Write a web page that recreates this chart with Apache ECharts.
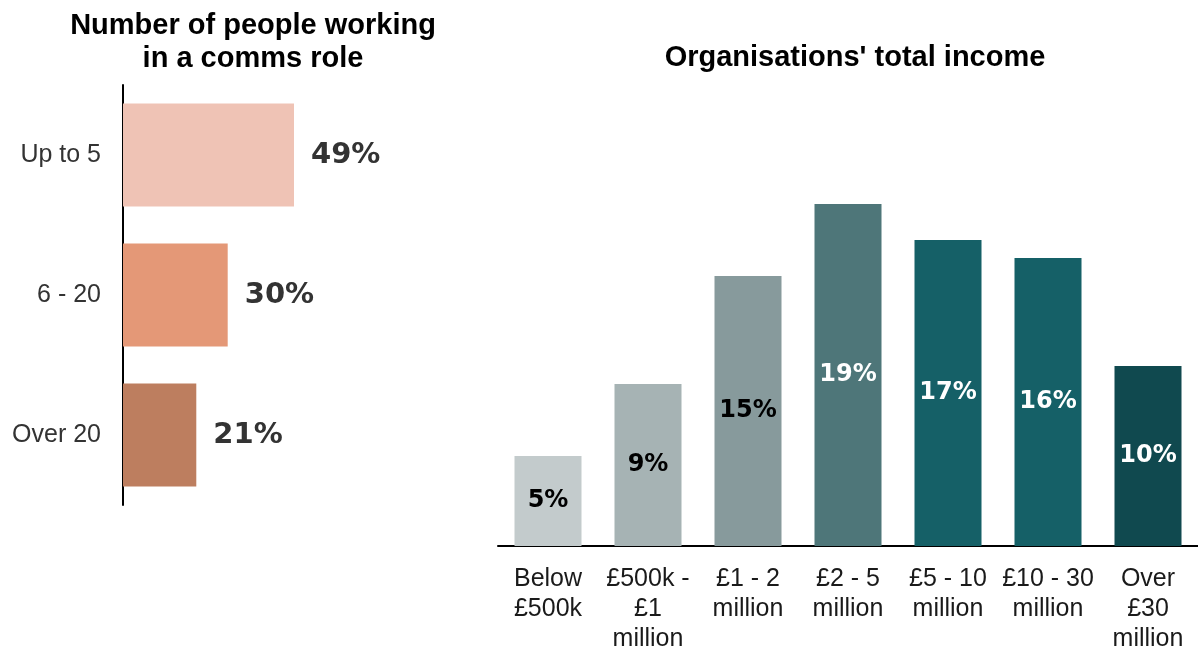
<!DOCTYPE html>
<html>
<head>
<meta charset="utf-8">
<script src="https://cdn.jsdelivr.net/npm/echarts@6/dist/echarts.min.js"></script>
<style>
  html, body { margin: 0; padding: 0; background: #ffffff; }
  #chart { width: 1198px; height: 649px; }
</style>
</head>
<body>
<div id="chart"></div>
<script>
// Comms team size
const staffCategories = ['Up to 5', '6 - 20', 'Over 20'];
const staffShares = [49, 30, 21];
const staffColors = ['#efc3b5', '#e49877', '#bd7e5f'];

// Organisation income bands
const incomeCategories = ['Below\n£500k', '£500k -\n£1\nmillion', '£1 - 2\nmillion', '£2 - 5\nmillion', '£5 - 10\nmillion', '£10 - 30\nmillion', 'Over\n£30\nmillion'];
const incomeShares = [5, 9, 15, 19, 17, 16, 10];
const incomeColors = ['#c3cbcc', '#a6b3b4', '#879a9c', '#4e7679', '#156067', '#156067', '#10494f'];
const incomeLabelColors = ['#000000', '#000000', '#000000', '#ffffff', '#ffffff', '#ffffff', '#ffffff'];

const chart = echarts.init(document.getElementById('chart'), null, { renderer: 'canvas' });

const textFont = 'Liberation Sans, Arial, sans-serif';
const heavyFont = 'DejaVu Sans, sans-serif';

chart.setOption({
  animation: false,
  backgroundColor: '#ffffff',
  title: [
    {
      text: 'Number of people working\nin a comms role',
      left: 248,
      top: 4,
      textAlign: 'center',
      textStyle: { fontFamily: textFont, fontSize: 29, fontWeight: 'bold', color: '#000000', lineHeight: 33 }
    },
    {
      text: "Organisations' total income",
      left: 850,
      top: 38,
      textAlign: 'center',
      textStyle: { fontFamily: textFont, fontSize: 29, fontWeight: 'bold', color: '#000000' }
    }
  ],
  grid: [
    { left: 123, top: 85, width: 349, height: 420, outerBoundsMode: 'none' },
    { left: 498, top: 186, width: 700, height: 360, outerBoundsMode: 'none' }
  ],
  xAxis: [
    { gridIndex: 0, type: 'value', min: 0, max: 100, show: false },
    {
      gridIndex: 1,
      type: 'category',
      data: incomeCategories,
      axisLine: { show: true, lineStyle: { color: '#000000', width: 2 } },
      axisTick: { show: false },
      axisLabel: { color: '#1a1a1a', fontFamily: textFont, fontSize: 25, lineHeight: 30, margin: 18, interval: 0 }
    }
  ],
  yAxis: [
    {
      gridIndex: 0,
      type: 'category',
      inverse: true,
      data: staffCategories,
      axisLine: { show: true, lineStyle: { color: '#000000', width: 2 } },
      axisTick: { show: false },
      axisLabel: { color: '#333333', fontFamily: textFont, fontSize: 25, margin: 22 }
    },
    { gridIndex: 1, type: 'value', min: 0, max: 20, show: false }
  ],
  series: [
    {
      type: 'bar',
      xAxisIndex: 0,
      yAxisIndex: 0,
      barWidth: 103,
      data: staffShares.map((v, i) => ({ value: v, itemStyle: { color: staffColors[i] } })),
      label: {
        show: true,
        position: 'right',
        distance: 17,
        formatter: '{c}%',
        color: '#333333',
        fontFamily: heavyFont,
        fontWeight: 'bold',
        fontSize: 29
      }
    },
    {
      type: 'bar',
      xAxisIndex: 1,
      yAxisIndex: 1,
      barWidth: 67,
      data: incomeShares.map((v, i) => ({
        value: v,
        itemStyle: { color: incomeColors[i] },
        label: { color: incomeLabelColors[i] }
      })),
      label: {
        show: true,
        position: 'inside',
        formatter: '{c}%',
        fontFamily: heavyFont,
        fontWeight: 'bold',
        fontSize: 24
      }
    }
  ]
});
</script>
</body>
</html>
